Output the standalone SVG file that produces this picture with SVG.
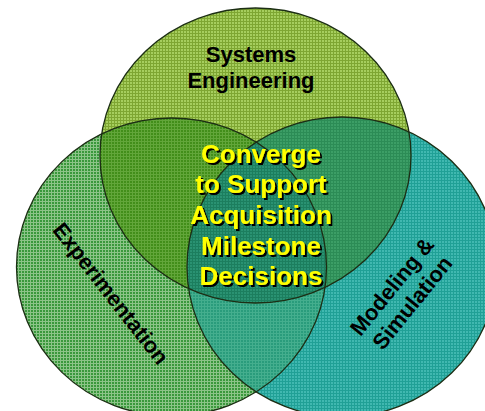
<svg xmlns="http://www.w3.org/2000/svg" width="485" height="411" viewBox="0 0 485 411">
<style>
.lbl{font-family:"Liberation Sans",Arial,sans-serif;font-weight:bold;font-size:22px;fill:#000;text-anchor:middle}
.ctr{font-family:"Liberation Sans",Arial,sans-serif;font-weight:bold;font-size:26px;text-anchor:middle;fill:#ffff00}
.edge{fill:none;stroke:#1c2e14;stroke-width:1.3}
</style>
<defs>
<filter id="shadow" x="-10%" y="-10%" width="130%" height="130%">
<feDropShadow dx="2" dy="2" stdDeviation="0" flood-color="#000" flood-opacity="1"/>
</filter>
<ellipse id="eT" cx="255.5" cy="155.5" rx="155.5" ry="147.5"/>
<ellipse id="eL" cx="171.5" cy="267" rx="155" ry="149"/>
<ellipse id="eR" cx="342" cy="267" rx="155" ry="150"/>
<clipPath id="cT"><use href="#eT"/></clipPath>
<clipPath id="cL"><use href="#eL"/></clipPath>
<clipPath id="cR"><use href="#eR"/></clipPath>
<pattern id="pT" width="3" height="3" patternUnits="userSpaceOnUse"><rect width="3" height="3" fill="#a6ce5e"/><rect width="3" height="1" fill="#7ea632"/><rect width="1" height="3" fill="#7ea632"/></pattern>
<pattern id="pL" width="3" height="3" patternUnits="userSpaceOnUse"><rect width="3" height="3" fill="#3a983c"/><rect width="3" height="1" fill="#8cc488"/><rect width="1" height="3" fill="#8cc488"/></pattern>
<pattern id="pR" width="3" height="3" patternUnits="userSpaceOnUse"><rect width="3" height="3" fill="#40b8b0"/><rect width="3" height="1" fill="#20a096"/><rect width="1" height="3" fill="#20a096"/></pattern>
<pattern id="pTL" width="3" height="3" patternUnits="userSpaceOnUse"><rect width="3" height="3" fill="#428e1a"/><rect width="3" height="1" fill="#62a63a"/><rect width="1" height="3" fill="#62a63a"/></pattern>
<pattern id="pTR" width="3" height="3" patternUnits="userSpaceOnUse"><rect width="3" height="3" fill="#3c9e66"/><rect width="3" height="1" fill="#2c8c56"/><rect width="1" height="3" fill="#2c8c56"/></pattern>
<pattern id="pLR" width="3" height="3" patternUnits="userSpaceOnUse"><rect width="3" height="3" fill="#2a9c7c"/><rect width="3" height="1" fill="#44ae8e"/><rect width="1" height="3" fill="#44ae8e"/></pattern>
<pattern id="pC" width="3" height="3" patternUnits="userSpaceOnUse"><rect width="3" height="3" fill="#2a9272"/><rect width="3" height="1" fill="#1c7e5e"/><rect width="1" height="3" fill="#1c7e5e"/></pattern>
</defs>
<g id="fills">
<use href="#eT" fill="url(#pT)"/>
<use href="#eL" fill="url(#pL)"/>
<use href="#eR" fill="url(#pR)"/>
<g clip-path="url(#cL)"><use href="#eT" fill="url(#pTL)"/></g>
<g clip-path="url(#cR)"><use href="#eT" fill="url(#pTR)"/></g>
<g clip-path="url(#cR)"><use href="#eL" fill="url(#pLR)"/></g>
<g clip-path="url(#cR)"><g clip-path="url(#cL)"><use href="#eT" fill="url(#pC)"/></g></g>
</g>
<g id="outlines">
<use href="#eT" class="edge"/>
<use href="#eL" class="edge"/>
<use href="#eR" class="edge"/>
</g>
<g id="systems-engineering">
<text class="lbl" x="251" y="62">Systems</text>
<text class="lbl" x="251" y="88">Engineering</text>
</g>
<g id="experimentation" transform="translate(111,293.5) rotate(52)">
<text class="lbl" x="0" y="7.7">Experimentation</text>
</g>
<g id="modeling-simulation" transform="translate(402,294.5) rotate(-51)">
<text class="lbl" x="0" y="-5.3">Modeling &amp;</text>
<text class="lbl" x="0" y="20.7">Simulation</text>
</g>
<g id="converge" class="ctr" filter="url(#shadow)">
<text x="261" y="163">Converge</text>
<text x="261" y="193">to Support</text>
<text x="261" y="224">Acquisition</text>
<text x="261" y="255">Milestone</text>
<text x="261" y="285">Decisions</text>
</g>
</svg>
